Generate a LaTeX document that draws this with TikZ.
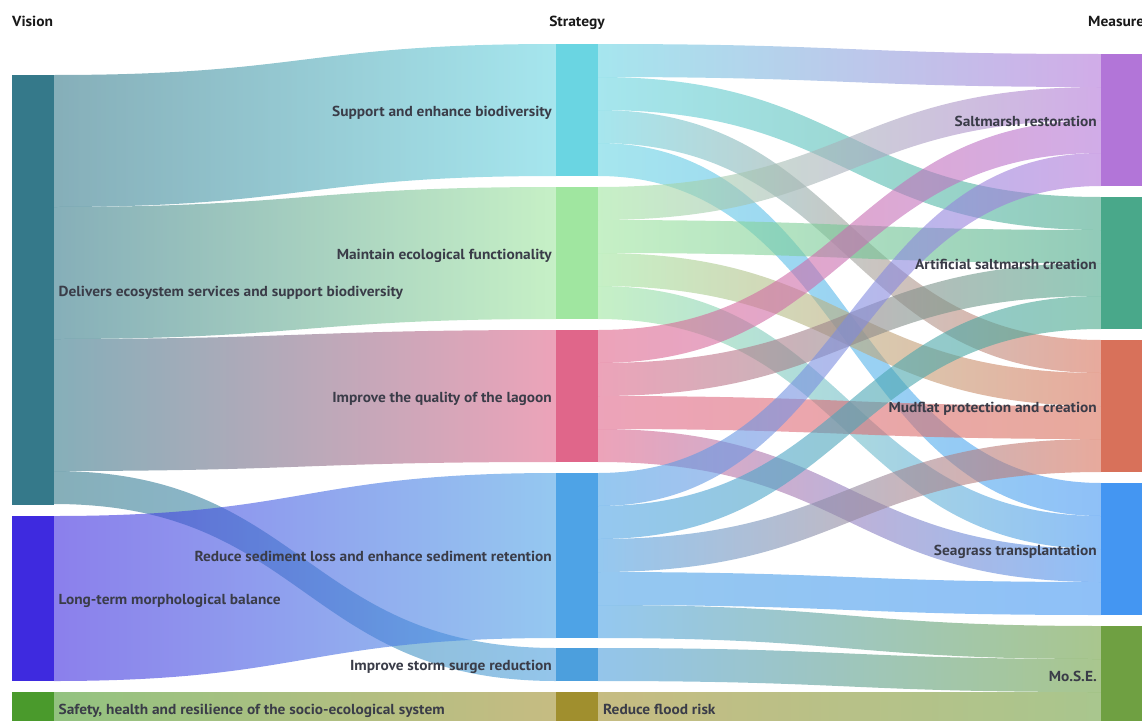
\documentclass[tikz,border=0pt]{standalone}
\usepackage{fontspec}
\setmainfont{PT Sans}[FakeStretch=1.06]
\usetikzlibrary{calc}
\definecolor{cV1}{HTML}{35798A}
\definecolor{cV2}{HTML}{3E2ADF}
\definecolor{cV3}{HTML}{4A9A2C}
\definecolor{cS1}{HTML}{6AD5E2}
\definecolor{cS2}{HTML}{A0E6A0}
\definecolor{cS3}{HTML}{E0668A}
\definecolor{cS4}{HTML}{4EA3E6}
\definecolor{cS5}{HTML}{4C9FDD}
\definecolor{cS6}{HTML}{A08F2E}
\definecolor{cM1}{HTML}{B275D8}
\definecolor{cM2}{HTML}{49A88A}
\definecolor{cM3}{HTML}{D8715A}
\definecolor{cM4}{HTML}{4496F2}
\definecolor{cM5}{HTML}{6FA042}
\definecolor{txt}{HTML}{3A3C48}
\tikzset{
  bar/.style={rectangle, fill=#1, draw=none, inner sep=0pt, outer sep=0pt, minimum width=42pt, anchor=north west},
  lbl/.style={font=\bfseries\fontsize{14.5}{17}\selectfont, text=txt, inner sep=0pt},
  hdr/.style={font=\bfseries\fontsize{14.6}{17}\selectfont, text=black!90, inner sep=0pt},
  flowfill/.style={fill opacity=0.6},
}
% #1 source node, #2 source offset (units), #3 target node, #4 target offset, #5 width, #6/#7 colours
\newcommand\sflow[7]{%
  \shade[flowfill, left color=#6, right color=#7]
    let \p1=(#1.north east), \p2=(#3.north west),
        \n1={0.5*\x1+0.5*\x2},
        \n2={\y1-(#2)*33pt}, \n3={\y2-(#4)*33pt},
        \n4={\y1-(#2+#5)*33pt}, \n5={\y2-(#4+#5)*33pt} in
    (\x1,\n2) .. controls (\n1,\n2) and (\n1,\n3) .. (\x2,\n3)
    -- (\x2,\n5) .. controls (\n1,\n5) and (\n1,\n4) .. (\x1,\n4) -- cycle;
}
\begin{document}
\begin{tikzpicture}[x=1pt,y=-1pt]
\useasboundingbox (0,0) rectangle (1142,720);
\clip (0,0) rectangle (1142,720);
% nodes
\node[bar=cV1, minimum height=430pt] (V1) at (12,75) {};
\node[bar=cV2, minimum height=165pt] (V2) at (12,516) {};
\node[bar=cV3, minimum height=33pt] (V3) at (12,692) {};
\node[bar=cS1, minimum height=132pt] (S1) at (556,44) {};
\node[bar=cS2, minimum height=132pt] (S2) at (556,187) {};
\node[bar=cS3, minimum height=132pt] (S3) at (556,330) {};
\node[bar=cS4, minimum height=165pt] (S4) at (556,473) {};
\node[bar=cS5, minimum height=33pt] (S5) at (556,648) {};
\node[bar=cS6, minimum height=33pt] (S6) at (556,692) {};
\node[bar=cM1, minimum height=132pt] (M1) at (1101,54) {};
\node[bar=cM2, minimum height=132pt] (M2) at (1101,197) {};
\node[bar=cM3, minimum height=132pt] (M3) at (1101,340) {};
\node[bar=cM4, minimum height=132pt] (M4) at (1101,483) {};
\node[bar=cM5, minimum height=99pt] (M5) at (1101,626) {};
% flows vision -> strategy
\sflow{V1}{0}{S1}{0}{4}{cV1}{cS1}
\sflow{V1}{4}{S2}{0}{4}{cV1}{cS2}
\sflow{V1}{8}{S3}{0}{4}{cV1}{cS3}
\sflow{V1}{12}{S5}{0}{1}{cV1}{cS5}
\sflow{V2}{0}{S4}{0}{5}{cV2}{cS4}
\sflow{V3}{0}{S6}{0}{1}{cV3}{cS6}
% flows strategy -> measure
\sflow{S1}{0}{M1}{0}{1}{cS1}{cM1}
\sflow{S1}{1}{M2}{0}{1}{cS1}{cM2}
\sflow{S1}{2}{M3}{0}{1}{cS1}{cM3}
\sflow{S1}{3}{M4}{0}{1}{cS1}{cM4}
\sflow{S2}{0}{M1}{1}{1}{cS2}{cM1}
\sflow{S2}{1}{M2}{1}{1}{cS2}{cM2}
\sflow{S2}{2}{M3}{1}{1}{cS2}{cM3}
\sflow{S2}{3}{M4}{1}{1}{cS2}{cM4}
\sflow{S3}{0}{M1}{2}{1}{cS3}{cM1}
\sflow{S3}{1}{M2}{2}{1}{cS3}{cM2}
\sflow{S3}{2}{M3}{2}{1}{cS3}{cM3}
\sflow{S3}{3}{M4}{2}{1}{cS3}{cM4}
\sflow{S4}{0}{M1}{3}{1}{cS4}{cM1}
\sflow{S4}{1}{M2}{3}{1}{cS4}{cM2}
\sflow{S4}{2}{M3}{3}{1}{cS4}{cM3}
\sflow{S4}{3}{M4}{3}{1}{cS4}{cM4}
\sflow{S4}{4}{M5}{0}{1}{cS4}{cM5}
\sflow{S5}{0}{M5}{1}{1}{cS5}{cM5}
\sflow{S6}{0}{M5}{2}{1}{cS6}{cM5}
% headers
\node[hdr, anchor=base west] (hV) at (12,27) {Vision};
\node[hdr, anchor=base] (hS) at (577,27) {Strategy};
\node[hdr, anchor=base west] (hM) at (1088,27) {Measure};
% labels
\tikzset{lw/.style={lbl, anchor=base west}, le/.style={lbl, anchor=base east}}
\node[lw] (lV1) at ([xshift=4.5pt, yshift=-6pt]V1.east) {Delivers ecosystem services and support biodiversity};
\node[lw] (lV2) at ([xshift=4.5pt, yshift=-6pt]V2.east) {Long-term morphological balance};
\node[lw] (lV3) at ([xshift=4.5pt, yshift=-6pt]V3.east) {Safety, health and resilience of the socio-ecological system};
\node[le] (lS1) at ([xshift=-4pt, yshift=-6pt]S1.west) {Support and enhance biodiversity};
\node[le] (lS2) at ([xshift=-4pt, yshift=-6pt]S2.west) {Maintain ecological functionality};
\node[le] (lS3) at ([xshift=-4pt, yshift=-6pt]S3.west) {Improve the quality of the lagoon};
\node[le] (lS4) at ([xshift=-4pt, yshift=-6pt]S4.west) {Reduce sediment loss and enhance sediment retention};
\node[le] (lS5) at ([xshift=-4pt, yshift=-6pt]S5.west) {Improve storm surge reduction};
\node[lw] (lS6) at ([xshift=5pt, yshift=-6pt]S6.east) {Reduce flood risk};
\node[le] (lM1) at ([xshift=-4pt, yshift=-6pt]M1.west) {Saltmarsh restoration};
\node[le] (lM2) at ([xshift=-4pt, yshift=-6pt]M2.west) {Artificial saltmarsh creation};
\node[le] (lM3) at ([xshift=-4pt, yshift=-6pt]M3.west) {Mudflat protection and creation};
\node[le] (lM4) at ([xshift=-4pt, yshift=-6pt]M4.west) {Seagrass transplantation};
\node[le] (lM5) at ([xshift=-4pt, yshift=-6pt]M5.west) {Mo.S.E.};
\end{tikzpicture}
\end{document}
